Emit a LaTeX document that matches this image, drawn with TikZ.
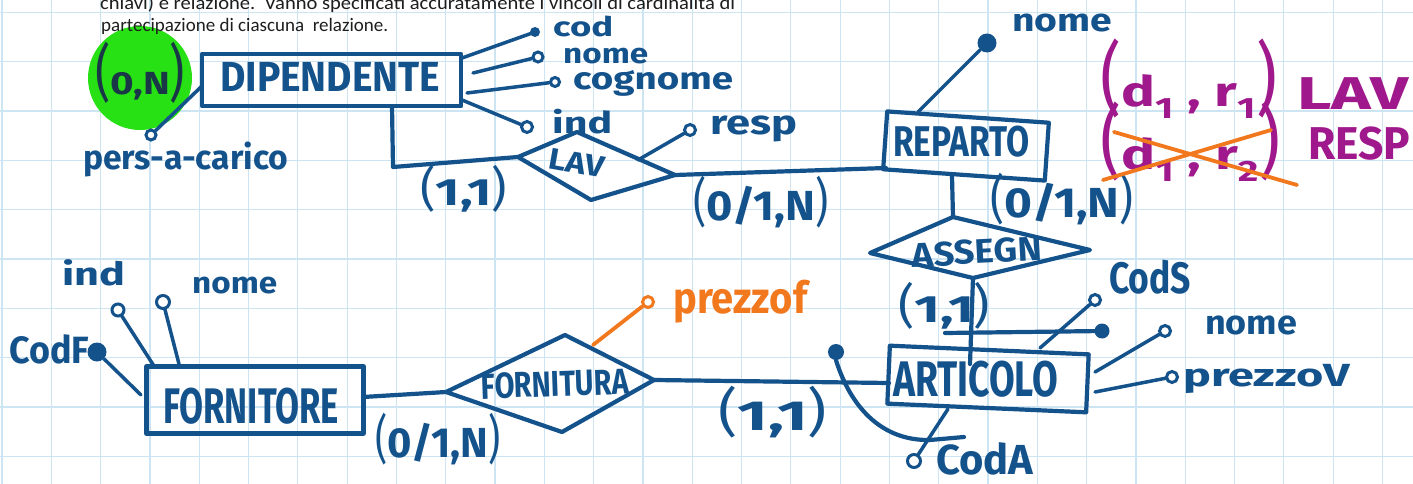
\documentclass[tikz,border=0pt]{standalone}
\usepackage{fontspec}
\setmainfont{Fira Sans}
\newfontfamily\docfont{Carlito}
\usepackage{graphicx}
\definecolor{inkblue}{RGB}{20,82,140}
\definecolor{mag}{RGB}{160,25,140}
\definecolor{orng}{RGB}{242,120,30}
\definecolor{hgreen}{RGB}{40,225,20}
\definecolor{gridc}{RGB}{205,228,242}
\definecolor{darkink}{RGB}{25,55,70}
\definecolor{doctext}{RGB}{30,30,30}
\newcommand{\fitw}[3]{\resizebox{#1pt}{\height}{\fontsize{#2pt}{#2pt}\selectfont #3}}
\newcommand{\lpar}{{\mdseries\scalebox{0.9}[1.25]{(}}}
\newcommand{\rpar}{{\mdseries\scalebox{0.9}[1.25]{)}}}
\newcommand{\Lpar}[1]{{\mdseries\fontsize{#1pt}{#1pt}\selectfont\scalebox{0.6}[1]{(}}}
\newcommand{\Rpar}[1]{{\mdseries\fontsize{#1pt}{#1pt}\selectfont\scalebox{0.6}[1]{)}}}
\tikzset{
  ink/.style={draw=inkblue, line width=4.2pt, line cap=round, line join=round},
  aline/.style={draw=inkblue, line width=3.5pt, line cap=round},
  oline/.style={draw=orng, line width=3.8pt, line cap=round},
  entity/.style={ink, rectangle, inner sep=0pt},
  ocirc/.style={circle, draw=inkblue, line width=3pt, fill=white, inner sep=0pt},
  ocircor/.style={circle, draw=orng, line width=3pt, fill=white, inner sep=0pt},
  fdot/.style={circle, fill=inkblue, inner sep=0pt},
  lbl/.style={inner sep=0pt, text=inkblue, font=\bfseries},
  mlbl/.style={inner sep=0pt, text=mag, font=\bfseries},
}
\begin{document}
\begin{tikzpicture}[x=1pt,y=-1pt]
\useasboundingbox (0,0) rectangle (1413,484);
\clip (0,0) rectangle (1413,484);
\fill[white] (0,0) rectangle (1413,484);
% grid
\foreach \i in {0,...,28} \draw[gridc, line width=1.2pt] ({2+49.3*\i},0) -- ({2+49.3*\i},484);
\foreach \j in {0,...,9} \draw[gridc, line width=1.2pt] (0,{12.5+49.3*\j}) -- (1413,{12.5+49.3*\j});
% green highlight
\node[circle, fill=hgreen, minimum size=104pt, inner sep=0pt] (hl) at (140,78) {};
% document text
\node[anchor=base west, inner sep=0pt, text=doctext] (t1) at (100,10) {\docfont\resizebox{635pt}{\height}{\fontsize{19pt}{23pt}\selectfont chiavi) e relazione.\ \ Vanno specificati accuratamente i vincoli di cardinalità di}};
\node[anchor=base west, inner sep=0pt, text=doctext] (t2) at (101,32) {\docfont\resizebox{287pt}{\height}{\fontsize{19pt}{23pt}\selectfont partecipazione di ciascuna\ \ relazione.}};

% ---------- entities ----------
\node[entity, minimum width=259pt, minimum height=52pt] (dip) at (331.5,80) {};
\node[entity, rotate=-4, minimum width=162pt, minimum height=58pt] (rep) at (966,146) {};
\node[entity, rotate=-2.5, minimum width=199pt, minimum height=58pt] (art) at (988,379) {};
\node[entity, minimum width=217pt, minimum height=67pt] (forn) at (255,400) {};

% ---------- relationships ----------
\coordinate (lavL) at (518,157); \coordinate (lavT) at (577,132);
\coordinate (lavR) at (675,175); \coordinate (lavB) at (591,200);
\draw[ink] (lavL) -- (lavT) -- (lavR) -- (lavB) -- cycle;
\coordinate (asL) at (870,253); \coordinate (asT) at (953,217);
\coordinate (asR) at (1090,250); \coordinate (asB) at (973,278);
\draw[ink] (asL) -- (asT) -- (asR) -- (asB) -- cycle;
\coordinate (foL) at (446,392); \coordinate (foT) at (565,335);
\coordinate (foR) at (654,380); \coordinate (foB) at (562,432);
\draw[ink] (foL) -- (foT) -- (foR) -- (foB) -- cycle;

% ---------- connectors ----------
\coordinate (dipB) at (392,106); \coordinate (k1) at (393,167);
\draw[ink] (dipB) -- (k1) -- (lavL);
\coordinate (repL) at (886,168);
\draw[ink] (lavR) -- (repL);
\coordinate (repB) at (952,176);
\draw[ink] (repB) -- (asT);
\coordinate (artIn) at (970,364);
\draw[ink] (asB) -- (artIn);
\coordinate (fornR) at (363,397);
\draw[ink] (fornR) -- (foL);
\coordinate (artL) at (889,383);
\draw[ink] (foR) -- (artL);
% identifiers
\coordinate (idS) at (945,333);
\node[fdot, minimum size=15pt] (dS) at (1102,331) {};
\draw[ink] (idS) -- (dS);
\node[fdot, minimum size=16pt] (dA) at (836,352) {};
\coordinate (idAend) at (964,437);
\draw[ink] (dA.south) .. controls (850,405) and (880,441) .. (930,440) -- (idAend);

% ---------- attributes ----------
\coordinate (pcod) at (462,58);   \node[fdot, minimum size=10pt] (acod) at (535,32) {};
\coordinate (pnome) at (473,73);  \node[ocirc, minimum size=10pt] (anome) at (538,57) {};
\coordinate (pcog) at (467,93);   \node[ocirc, minimum size=9pt] (acog) at (555,82) {};
\coordinate (pind) at (462,100);  \node[ocirc, minimum size=11pt] (aind) at (527,127) {};
\coordinate (ppers) at (202,86);  \node[ocirc, minimum size=10pt] (apers) at (151,135) {};
\coordinate (presp) at (638,160); \node[ocirc, minimum size=11pt] (aresp) at (690,130) {};
\coordinate (prnome) at (918,112); \node[fdot, minimum size=19pt] (arnome) at (987,43) {};
\coordinate (pfind) at (154,366); \node[ocirc, minimum size=12pt] (afind) at (118,310) {};
\coordinate (pfnome) at (179,364); \node[ocirc, minimum size=13pt] (afnome) at (163,302) {};
\coordinate (pcodf) at (141,395); \node[fdot, minimum size=19pt] (acodf) at (97,352) {};
\coordinate (ppf) at (593,345);   \node[ocircor, minimum size=11pt] (apf) at (648,302) {};
\coordinate (pcods) at (1040,348); \node[ocirc, minimum size=11pt] (acods) at (1095,300) {};
\coordinate (panome) at (1095,372); \node[ocirc, minimum size=11pt] (aanome) at (1165,331) {};
\coordinate (ppv) at (1095,392);  \node[ocirc, minimum size=11pt] (apv) at (1172,377) {};
\coordinate (pcoda) at (948,409); \node[ocirc, minimum size=13pt] (acoda) at (914,461) {};

\draw[aline] (pcod) -- (acod);
\draw[aline] (pnome) -- (anome);
\draw[aline] (pcog) -- (acog);
\draw[aline] (pind) -- (aind);
\draw[aline] (ppers) -- (apers);
\draw[aline] (presp) -- (aresp);
\draw[aline] (prnome) -- (arnome);
\draw[aline] (pfind) -- (afind);
\draw[aline] (pfnome) -- (afnome);
\draw[aline] (pcodf) -- (acodf);
\draw[oline] (ppf) -- (apf);
\draw[aline] (pcods) -- (acods);
\draw[aline] (panome) -- (aanome);
\draw[aline] (ppv) -- (apv);
\draw[aline] (pcoda) -- (acoda);

% ---------- labels ----------
\node[lbl, text=darkink, anchor=base west] (lon) at (95,95) {\fitw{90}{32}{\Lpar{62}0,N\Rpar{62}}};
\node[lbl, anchor=base west] (ldip) at (220,92) {\fitw{220}{42}{DIPENDENTE}};
\node[lbl, anchor=base west] (lpers) at (83,170) {\fitw{205}{34}{pers-a-carico}};
\node[lbl, anchor=base west] (lcod) at (553,37) {\fitw{60}{27}{cod}};
\node[lbl, anchor=base west] (lnome) at (563,64) {\fitw{85}{28}{nome}};
\node[lbl, anchor=base west] (lcog) at (573,90) {\fitw{160}{31}{cognome}};
\node[lbl, anchor=base west] (lind) at (552,134) {\fitw{60}{30}{ind}};
\node[lbl, rotate=-10] (llav) at (577,163) {\fitw{56}{30}{LAV}};
\node[lbl, anchor=base west] (lresp) at (710,135) {\fitw{87}{34}{resp}};
\node[lbl, anchor=base west] (c1) at (420,205) {\fitw{87}{38}{\lpar1,1\rpar}};
\node[lbl, anchor=base west] (c2) at (693,220) {\fitw{135}{42}{\lpar0/1,N\rpar}};
\node[lbl, anchor=base west] (lrep) at (893,157) {\fitw{136}{43}{REPARTO}};
\node[lbl, anchor=base west] (lrnome) at (1012,32) {\fitw{100}{32}{nome}};
\node[lbl, anchor=base west] (c3) at (990,217) {\fitw{143}{42}{\lpar0/1,N\rpar}};
\node[lbl, rotate=3] (las) at (977,252) {\fitw{130}{34}{ASSEGN}};
\node[lbl, anchor=base west] (c4) at (898,322) {\fitw{92}{38}{\lpar1,1\rpar}};
\node[lbl, anchor=base west] (lcods) at (1109,293) {\fitw{82}{44}{CodS}};
\node[lbl, anchor=base west] (lanome) at (1205,334) {\fitw{92}{34}{nome}};
\node[lbl, anchor=base west] (lpv) at (1183,386) {\fitw{167}{32}{prezzoV}};
\node[lbl, anchor=base west] (lart) at (893,396) {\fitw{165}{50}{ARTICOLO}};
\node[lbl, anchor=base west] (lcoda) at (936,474) {\fitw{97}{42}{CodA}};
\node[lbl, anchor=base west] (c5) at (718,430) {\fitw{109}{42}{\lpar1,1\rpar}};
\node[lbl, anchor=base west] (lforn) at (163,423) {\fitw{176}{50}{FORNITORE}};
\node[lbl, rotate=2] (lfo) at (555,384) {\fitw{148}{36}{FORNITURA}};
\node[lbl, anchor=base west] (c6) at (375,457) {\fitw{125}{42}{\lpar0/1,N\rpar}};
\node[lbl, text=orng, anchor=base west] (lpf) at (673,313) {\fitw{134}{44}{prezzof}};
\node[lbl, anchor=base west] (lfind) at (62,285) {\fitw{63}{32}{ind}};
\node[lbl, anchor=base west] (lfnome) at (192,293) {\fitw{85}{30}{nome}};
\node[lbl, anchor=base west] (lcodf) at (9,363) {\fitw{80}{38}{CodF}};

% ---------- magenta notes ----------
\node[mlbl, anchor=base west] (m1) at (1100,107) {\fitw{177}{42}{\Lpar{80}d\textsubscript{1}\ ,\ r\textsubscript{1}\Rpar{80}}};
\node[mlbl, anchor=base west] (m1t) at (1297,110) {\fitw{111}{46}{LAV}};
\node[mlbl, anchor=base west] (m2) at (1100,170) {\fitw{180}{42}{\Lpar{80}d\textsubscript{1}\ ,\ r\textsubscript{2}\Rpar{80}}};
\node[mlbl, anchor=base west] (m2t) at (1308,160) {\fitw{102}{46}{RESP}};
\coordinate (xa1) at (1103,180); \coordinate (xa2) at (1271,130);
\coordinate (xb1) at (1114,132); \coordinate (xb2) at (1297,185);
\draw[oline] (xa1) -- (xa2);
\draw[oline] (xb1) -- (xb2);
\end{tikzpicture}
\end{document}
